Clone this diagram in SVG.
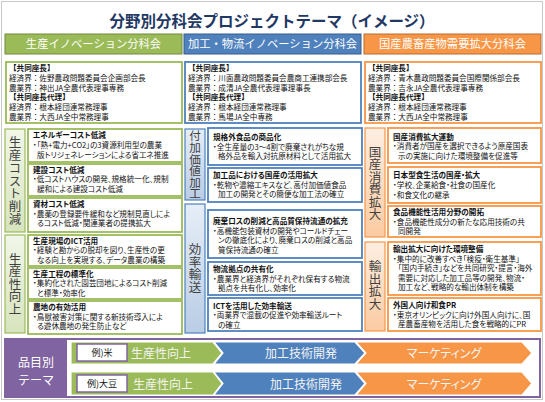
<svg xmlns="http://www.w3.org/2000/svg" width="545" height="402" viewBox="0 0 545 402">
<defs>
<linearGradient id="gG" x1="0" y1="0" x2="0" y2="1"><stop offset="0" stop-color="#F1F6E8"/><stop offset="1" stop-color="#D7E4BD"/></linearGradient>
<linearGradient id="gB" x1="0" y1="0" x2="0" y2="1"><stop offset="0" stop-color="#E6EEF7"/><stop offset="1" stop-color="#B9CDE5"/></linearGradient>
<linearGradient id="gO" x1="0" y1="0" x2="0" y2="1"><stop offset="0" stop-color="#FEEEE1"/><stop offset="1" stop-color="#FBCBA2"/></linearGradient>
</defs>
<style>
text{font-family:"Noto Sans CJK JP","Noto Sans",sans-serif}
.title{font-size:15.5px;font-weight:bold;fill:#1F3864;text-anchor:middle}
.hd{font-size:11.3px;fill:#FFFFFF;text-anchor:middle}
.t{font-size:7.6px;fill:#111;font-feature-settings:"palt"}
.b{font-size:7.6px;fill:#111;font-weight:bold;font-feature-settings:"palt"}
.ct{font-size:7.6px;fill:#111}
.cbd{font-size:7.6px;fill:#111;font-weight:bold}
.vl{font-size:12.5px;fill:#404040;text-anchor:middle;writing-mode:vertical-rl}
.cg{fill:#FFFFFF;stroke:#9BBB59;stroke-width:1.8}
.cb{fill:#FFFFFF;stroke:#4F81BD;stroke-width:1.8}
.co{fill:#FFFFFF;stroke:#F79646;stroke-width:1.8}
.lg{fill:url(#gG);stroke:#9BBB59;stroke-width:1.2}
.lb{fill:url(#gB);stroke:#4F81BD;stroke-width:1.2}
.lo{fill:url(#gO);stroke:#F79646;stroke-width:1.2}
.ar{font-size:12px;fill:#F4F4F4;text-anchor:middle;font-feature-settings:"palt"}
.ex{fill:#FFFFFF;stroke:#8064A2;stroke-width:1.5}
.ext{font-size:9px;fill:#111;text-anchor:middle}
.pl{font-size:12px;fill:#FFFFFF;text-anchor:middle}
</style>
<rect x="1.5" y="1.5" width="541" height="398" fill="#FFFFFF" stroke="#C8C8C8" stroke-width="1"/>
<text class="title" x="272" y="27">分野別分科会プロジェクトテーマ（イメージ）</text>

<g id="header-production">
<rect x="5" y="34" width="177" height="20" fill="#9BBB59" stroke="#71893F" stroke-width="1"/>
<text class="hd" x="93.5" y="48">生産イノベーション分科会</text>
</g>
<g id="header-processing">
<rect x="184" y="34" width="177" height="20" fill="#4F81BD" stroke="#385D8A" stroke-width="1"/>
<text class="hd" x="272.5" y="48">加工・物流イノベーション分科会</text>
</g>
<g id="header-demand">
<rect x="364" y="34" width="177" height="20" fill="#F79646" stroke="#B66D31" stroke-width="1"/>
<text class="hd" x="452.5" y="48">国産農畜産物需要拡大分科会</text>
</g>

<g id="chairs-production">
<rect class="cg" x="6" y="62" width="176" height="61"/>
<text class="cbd" x="9" y="71">【共同座長】</text>
<text class="ct" x="9" y="81">経済界：佐野農政問題委員会企画部会長</text>
<text class="ct" x="9" y="90.5">農業界：神出JA全農代表理事専務</text>
<text class="cbd" x="9" y="100">【共同座長代理】</text>
<text class="ct" x="9" y="110">経済界：根本経団連常務理事</text>
<text class="ct" x="9" y="119.5">農業界：大西JA全中常務理事</text>
</g>
<g id="chairs-processing">
<rect class="cb" x="185" y="62" width="176" height="61"/>
<text class="cbd" x="188" y="71">【共同座長】</text>
<text class="ct" x="188" y="81">経済界：川面農政問題委員会農商工連携部会長</text>
<text class="ct" x="188" y="90.5">農業界：成清JA全農代表理事理事長</text>
<text class="cbd" x="188" y="100">【共同座長代理】</text>
<text class="ct" x="188" y="110">経済界：根本経団連常務理事</text>
<text class="ct" x="188" y="119.5">農業界：馬場JA全中専務</text>
</g>
<g id="chairs-demand">
<rect class="co" x="365" y="62" width="176" height="61"/>
<text class="cbd" x="368" y="71">【共同座長】</text>
<text class="ct" x="368" y="81">経済界：青木農政問題委員会国際関係部会長</text>
<text class="ct" x="368" y="90.5">農業界：吉永JA全農代表理事専務</text>
<text class="cbd" x="368" y="100">【共同座長代理】</text>
<text class="ct" x="368" y="110">経済界：根本経団連常務理事</text>
<text class="ct" x="368" y="119.5">農業界：大西JA全中常務理事</text>
</g>

<!-- Left column -->
<g id="label-cost">
<rect class="lg" x="5" y="129" width="20" height="103"/>
<text class="vl" x="15" y="181" style="letter-spacing:0.3px">生産コスト削減</text>
</g>
<g id="label-productivity">
<rect class="lg" x="5" y="235" width="20" height="98"/>
<text class="vl" x="15" y="284">生産性向上</text>
</g>
<g id="box-energy">
<rect class="cg" x="28" y="129" width="154" height="33"/>
<text class="b" x="33" y="138">エネルギーコスト低減</text>
<text class="t" x="33" y="148">・「熱+電力+CO2」の3資源利用型の農業</text>
<text class="t" x="37" y="157.5">版トリジェネレーションによる省エネ推進</text>
</g>
<g id="box-construction">
<rect class="cg" x="28" y="164" width="154" height="32"/>
<text class="b" x="33" y="172.5">建設コスト低減</text>
<text class="t" x="33" y="182">・低コストハウスの開発、規格統一化、規制</text>
<text class="t" x="37" y="191.5">緩和による建設コスト低減</text>
</g>
<g id="box-materials">
<rect class="cg" x="28" y="198" width="154" height="34"/>
<text class="b" x="33" y="207">資材コスト低減</text>
<text class="t" x="33" y="216.5">・農薬の登録要件緩和など規制見直しによ</text>
<text class="t" x="37" y="226">るコスト低減・関連業者の提携拡大</text>
</g>
<g id="box-ict">
<rect class="cg" x="28" y="235" width="154" height="31"/>
<text class="b" x="33" y="243.5">生産現場のICT活用</text>
<text class="t" x="33" y="253">・経験と勘からの脱却を図り、生産性の更</text>
<text class="t" x="37" y="262.5">なる向上を実現する、データ農業の構築</text>
</g>
<g id="box-standard">
<rect class="cg" x="28" y="268" width="154" height="31"/>
<text class="b" x="33" y="276.5">生産工程の標準化</text>
<text class="t" x="33" y="286">・集約化された園芸団地によるコスト削減</text>
<text class="t" x="37" y="295.5">と標準・効率化</text>
</g>
<g id="box-farmland">
<rect class="cg" x="28" y="301" width="154" height="33"/>
<text class="b" x="33" y="310">農地の有効活用</text>
<text class="t" x="33" y="319.5">・鳥獣被害対策に関する新技術導入によ</text>
<text class="t" x="37" y="329">る遊休農地の発生防止など</text>
</g>

<!-- Middle column -->
<g id="label-value">
<rect class="lb" x="185" y="129" width="20" height="71"/>
<text class="vl" x="195" y="165" style="font-size:11.6px">付加価値加工</text>
</g>
<g id="label-transport">
<rect class="lb" x="185" y="204" width="20" height="129"/>
<text class="vl" x="195" y="268">効率輸送</text>
</g>
<g id="box-nonstandard">
<rect class="cb" x="208" y="128" width="154" height="37"/>
<text class="b" x="213" y="140">規格外食品の商品化</text>
<text class="t" x="213" y="149.5">・全生産量の3～4割で廃棄されがちな規</text>
<text class="t" x="218" y="159">格外品を輸入対抗原材料として活用拡大</text>
</g>
<g id="box-processed">
<rect class="cb" x="208" y="168" width="154" height="34"/>
<text class="b" x="213" y="178">加工品における国産の活用拡大</text>
<text class="t" x="213" y="187.5">・乾物や濃縮エキスなど、高付加価値食品</text>
<text class="t" x="218" y="197">加工の開発とその簡便な加工法の確立</text>
</g>
<g id="box-loss">
<rect class="cb" x="208" y="210" width="154" height="48"/>
<text class="b" x="213" y="224">廃棄ロスの削減と高品質保持流通の拡充</text>
<text class="t" x="213" y="233.5">・高機能包装資材の開発やコールドチェー</text>
<text class="t" x="218" y="243">ンの徹底化により、廃棄ロスの削減と高品</text>
<text class="t" x="218" y="252.5">質保持流通の確立</text>
</g>
<g id="box-logistics">
<rect class="cb" x="208" y="262" width="154" height="33"/>
<text class="b" x="213" y="272">物流拠点の共有化</text>
<text class="t" x="213" y="281.5">・農業界と経済界がそれぞれ保有する物流</text>
<text class="t" x="218" y="291">拠点を共有化し、効率化</text>
</g>
<g id="box-ict-transport">
<rect class="cb" x="208" y="298" width="154" height="33"/>
<text class="b" x="213" y="308.5">ICTを活用した効率輸送</text>
<text class="t" x="213" y="318">・両業界で混載の促進や効率輸送ルート</text>
<text class="t" x="218" y="327.5">の確立</text>
</g>

<!-- Right column -->
<g id="label-domestic">
<rect class="lo" x="365" y="128" width="20" height="109"/>
<text class="vl" x="375" y="183">国産消費拡大</text>
</g>
<g id="label-export">
<rect class="lo" x="365" y="242" width="20" height="89"/>
<text class="vl" x="375" y="285">輸出拡大</text>
</g>
<g id="box-campaign">
<rect class="co" x="388" y="128" width="153" height="35"/>
<text class="b" x="393" y="139.5">国産消費拡大運動</text>
<text class="t" x="393" y="149">・消費者が国産を選択できるよう原産国表</text>
<text class="t" x="398" y="158.5">示の実施に向けた環境整備を促進等</text>
</g>
<g id="box-diet">
<rect class="co" x="388" y="167" width="153" height="36"/>
<text class="b" x="393" y="177.5">日本型食生活の国産・拡大</text>
<text class="t" x="393" y="187.5">・学校、企業給食・社食の国産化</text>
<text class="t" x="393" y="197.5">・和食文化の継承</text>
</g>
<g id="box-functional">
<rect class="co" x="388" y="206" width="153" height="31"/>
<text class="b" x="393" y="215">食品機能性活用分野の開拓</text>
<text class="t" x="393" y="224.5">・食品機能性成分の新たな応用技術の共</text>
<text class="t" x="398" y="234">同開発</text>
</g>
<g id="box-export-env">
<rect class="co" x="388" y="242" width="153" height="53"/>
<text class="b" x="393" y="252">輸出拡大に向けた環境整備</text>
<text class="t" x="393" y="261.5">・集中的に改善すべき「検疫・衛生基準」</text>
<text class="t" x="398" y="271">「国内手続き」などを共同研究・提言・海外</text>
<text class="t" x="398" y="280.5">需要に対応した加工品等の開発、物流・</text>
<text class="t" x="398" y="290">加工など、戦略的な輸出体制を構築</text>
</g>
<g id="box-washoku">
<rect class="co" x="388" y="298" width="153" height="33"/>
<text class="b" x="393" y="308">外国人向け和食PR</text>
<text class="t" x="393" y="317.5">・東京オリンピックに向け外国人向けに、国</text>
<text class="t" x="398" y="327">産農畜産物を活用した食を戦略的にPR</text>
</g>

<!-- Bottom -->
<g id="item-themes">
<rect x="5" y="339" width="535" height="58" fill="#FFFFFF" stroke="#8064A2" stroke-width="2"/>
<rect x="5" y="339" width="62" height="58" fill="#8064A2"/>
<text class="pl" x="36" y="366.5">品目別</text>
<text class="pl" x="36" y="385">テーマ</text>
</g>
<g id="connectors">
<polygon points="71,342 213,342 222,353 213,364 71,364" fill="#9BBB59" stroke="#FFFFFF" stroke-width="1.2"/>
<polygon points="214,342 355,342 365,353 355,364 214,364 223,353" fill="#4F81BD" stroke="#FFFFFF" stroke-width="1.2"/>
<polygon points="356,342 522,342 532,353 522,364 356,364 366,353" fill="#F79646" stroke="#FFFFFF" stroke-width="1.2"/>
<polygon points="71,372 213,372 222,383.5 213,395 71,395" fill="#9BBB59" stroke="#FFFFFF" stroke-width="1.2"/>
<polygon points="214,372 355,372 365,383.5 355,395 214,395 223,383.5" fill="#4F81BD" stroke="#FFFFFF" stroke-width="1.2"/>
<polygon points="356,372 522,372 532,383.5 522,395 356,395 366,383.5" fill="#F79646" stroke="#FFFFFF" stroke-width="1.2"/>
</g>
<g id="row-rice">
<rect class="ex" x="77" y="344" width="50" height="17"/>
<text class="ext" x="102" y="356">例)米</text>
<text class="ar" x="161" y="357.5">生産性向上</text>
<text class="ar" x="301" y="357.5">加工技術開発</text>
<text class="ar" x="444" y="357.5">マーケティング</text>
</g>
<g id="row-soy">
<rect class="ex" x="77" y="375" width="50" height="17"/>
<text class="ext" x="102" y="387">例)大豆</text>
<text class="ar" x="163" y="388.5">生産性向上</text>
<text class="ar" x="306" y="388.5">加工技術開発</text>
<text class="ar" x="444" y="388.5">マーケティング</text>
</g>
</svg>
